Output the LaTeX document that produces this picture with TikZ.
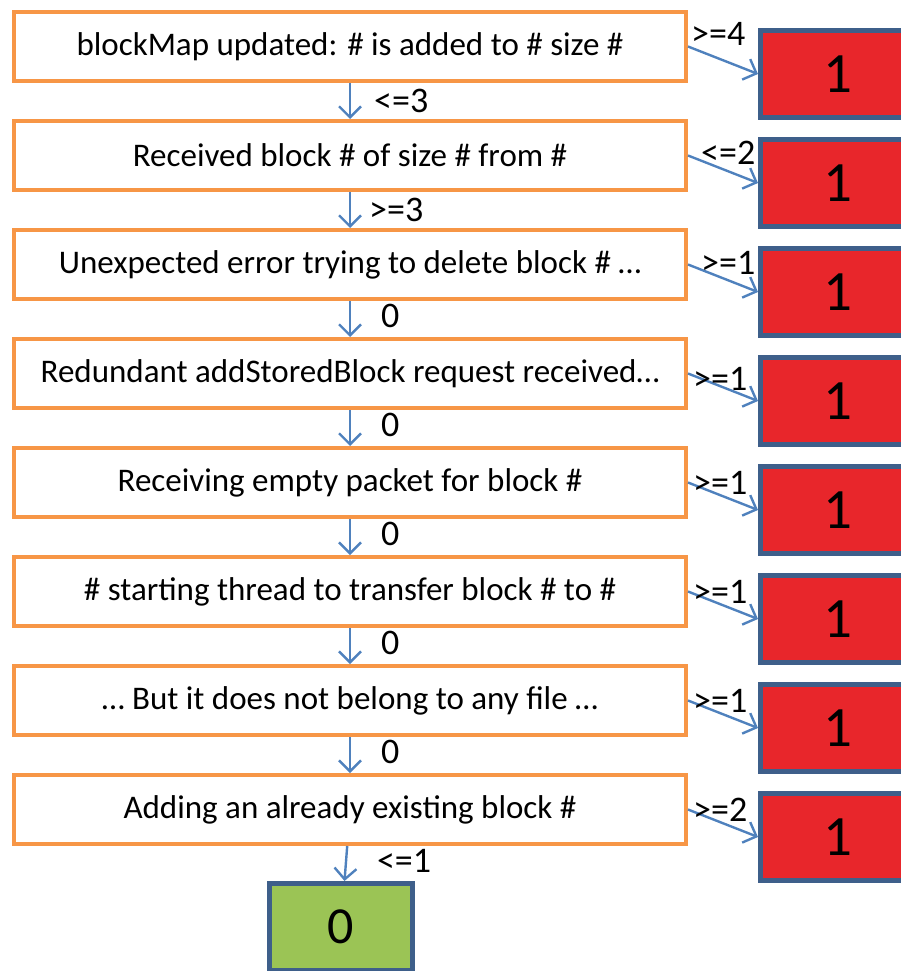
\documentclass[tikz,border=0pt]{standalone}
\usepackage{fontspec}
\setmainfont{Carlito}
\usetikzlibrary{arrows.meta,positioning}
\definecolor{rim}{HTML}{F79646}
\definecolor{flow}{HTML}{4F81BD}
\definecolor{hit}{HTML}{E8262B}
\definecolor{edge}{HTML}{3E5F8A}
\definecolor{pass}{HTML}{9BC455}

\begin{document}
\begin{tikzpicture}[x=1pt,y=1pt,>={Straight Barb[length=11pt,width=22pt]},
 msg/.style={draw=rim,line width=4pt,fill=white,minimum width=672pt,minimum height=69pt,inner sep=0pt,font=\fontsize{33}{36}\selectfont},
 verdict/.style={draw=edge,line width=5pt,fill=hit,minimum width=155pt,minimum height=87pt,inner sep=0pt,font=\fontsize{57}{60}\selectfont},
 cond/.style={inner sep=0pt,anchor=west,font=\fontsize{36}{38}\selectfont},
 downcond/.style={cond,xshift=30pt},
 sidecond/.style={cond,pos=0,xshift=4pt},
 link/.style={->,draw=flow,line width=2.4pt}]
\useasboundingbox (0,0) rectangle (900,-971);
\node[msg] (m1) at (350,-46.5) {blockMap updated: \# is added to \# size \#};
\node[msg,below=36pt of m1] (m2) {Received block \# of size \# from \#};
\node[msg,below=36pt of m2] (m3) {Unexpected error trying to delete block \# …};
\node[msg,below=36pt of m3] (m4) {Redundant addStoredBlock request received…};
\node[msg,below=36pt of m4] (m5) {Receiving empty packet for block \#};
\node[msg,below=36pt of m5] (m6) {\# starting thread to transfer block \# to \#};
\node[msg,below=36pt of m6] (m7) {… But it does not belong to any file …};
\node[msg,below=36pt of m7] (m8) {Adding an already existing block \#};
\node[verdict] (v1) at (838,-74) {1};
\node[verdict,below=17pt of v1] (v2) {1};
\node[verdict,below=17pt of v2] (v3) {1};
\node[verdict,below=17pt of v3] (v4) {1};
\node[verdict,below=17pt of v4] (v5) {1};
\node[verdict,below=17pt of v5] (v6) {1};
\node[verdict,below=17pt of v6] (v7) {1};
\node[verdict,below=17pt of v7] (v8) {1};
\node[verdict,fill=pass,minimum width=143pt,font=\fontsize{52}{56}\selectfont,below=35pt of m8,xshift=-9pt] (done) {0};
% down the chain
\draw[link] (m1) -- node[downcond,xshift=-7pt]{<=3} (m2);
\draw[link] (m2) -- node[downcond,xshift=-12pt]{>=3} (m3);
\draw[link] (m3) -- node[downcond,yshift=3pt]{0} (m4);
\draw[link] (m4) -- node[downcond,yshift=3pt]{0} (m5);
\draw[link] (m5) -- node[downcond,yshift=3pt]{0} (m6);
\draw[link] (m6) -- node[downcond,yshift=3pt]{0} (m7);
\draw[link] (m7) -- node[downcond,yshift=3pt]{0} (m8);
\draw[link] (m8) -- node[downcond,yshift=3pt]{<=1} (done);
% out to the side
\draw[link] (m1.east) -- (v1.west) node[sidecond,xshift=-2pt,yshift=13pt]{>=4};
\draw[link] (m2.east) -- (v2.west) node[sidecond,xshift=8pt,yshift=3pt]{<=2};
\draw[link] (m3.east) -- (v3.west) node[sidecond,xshift=8pt,yshift=2pt]{>=1};
\draw[link] (m4.east) -- (v4.west) node[sidecond,yshift=-5pt]{>=1};
\draw[link] (m5.east) -- (v5.west) node[sidecond]{>=1};
\draw[link] (m6.east) -- (v6.west) node[sidecond]{>=1};
\draw[link] (m7.east) -- (v7.west) node[sidecond]{>=1};
\draw[link] (m8.east) -- (v8.west) node[sidecond]{>=2};
\end{tikzpicture}
\end{document}
